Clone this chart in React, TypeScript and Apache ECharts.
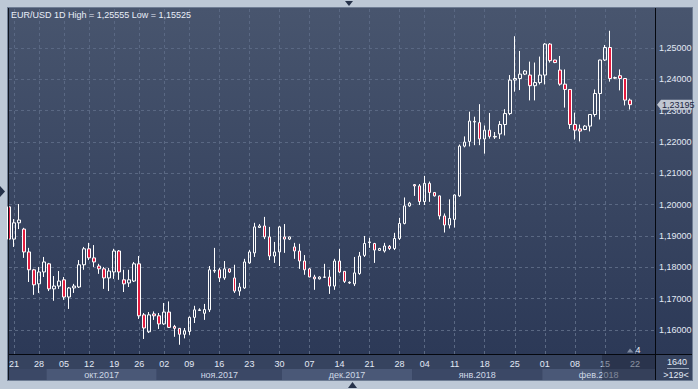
import React, { useEffect, useRef } from "react";
import * as echarts from "echarts";

const dates: string[] = [
  "2017-09-20", "2017-09-21", "2017-09-22", "2017-09-25", "2017-09-26", "2017-09-27", "2017-09-28", "2017-09-29",
  "2017-10-02", "2017-10-03", "2017-10-04", "2017-10-05", "2017-10-06", "2017-10-09", "2017-10-10", "2017-10-11",
  "2017-10-12", "2017-10-13", "2017-10-16", "2017-10-17", "2017-10-18", "2017-10-19", "2017-10-20", "2017-10-23",
  "2017-10-24", "2017-10-25", "2017-10-26", "2017-10-27", "2017-10-30", "2017-10-31", "2017-11-01", "2017-11-02",
  "2017-11-03", "2017-11-06", "2017-11-07", "2017-11-08", "2017-11-09", "2017-11-10", "2017-11-12", "2017-11-13",
  "2017-11-14", "2017-11-15", "2017-11-16", "2017-11-17", "2017-11-19", "2017-11-20", "2017-11-21", "2017-11-22",
  "2017-11-23", "2017-11-24", "2017-11-26", "2017-11-27", "2017-11-28", "2017-11-29", "2017-11-30", "2017-12-01",
  "2017-12-03", "2017-12-04", "2017-12-05", "2017-12-06", "2017-12-07", "2017-12-08", "2017-12-10", "2017-12-11",
  "2017-12-12", "2017-12-13", "2017-12-14", "2017-12-15", "2017-12-17", "2017-12-18", "2017-12-19", "2017-12-20",
  "2017-12-21", "2017-12-22", "2017-12-24", "2017-12-25", "2017-12-26", "2017-12-27", "2017-12-28", "2017-12-29",
  "2017-12-31", "2018-01-02", "2018-01-03", "2018-01-04", "2018-01-05", "2018-01-07", "2018-01-08", "2018-01-09",
  "2018-01-10", "2018-01-11", "2018-01-12", "2018-01-14", "2018-01-15", "2018-01-16", "2018-01-17", "2018-01-18",
  "2018-01-19", "2018-01-21", "2018-01-22", "2018-01-23", "2018-01-24", "2018-01-25", "2018-01-26", "2018-01-28",
  "2018-01-29", "2018-01-30", "2018-01-31", "2018-02-01", "2018-02-02", "2018-02-04", "2018-02-05", "2018-02-06",
  "2018-02-07", "2018-02-08", "2018-02-09", "2018-02-11", "2018-02-12", "2018-02-13", "2018-02-14", "2018-02-15",
  "2018-02-16", "2018-02-18", "2018-02-19", "2018-02-20", "2018-02-21", "2018-02-22", "2018-02-23", "2018-02-25",
  "2018-02-26", "2018-02-27",
];

const opens: number[] = [
  1.1993, 1.1890, 1.1942, 1.1922, 1.1849, 1.1792, 1.1747, 1.1785, 1.1811, 1.1731,
  1.1740, 1.1760, 1.1705, 1.1734, 1.1737, 1.1808, 1.1859, 1.1830, 1.1804, 1.1795,
  1.1766, 1.1785, 1.1852, 1.1760, 1.1750, 1.1756, 1.1811, 1.1648, 1.1594, 1.1651,
  1.1645, 1.1619, 1.1657, 1.1611, 1.1605, 1.1586, 1.1595, 1.1640, 1.1662, 1.1653,
  1.1664, 1.1788, 1.1792, 1.1766, 1.1795, 1.1766, 1.1724, 1.1734, 1.1814, 1.1846,
  1.1927, 1.1932, 1.1897, 1.1836, 1.1849, 1.1897, 1.1890, 1.1865, 1.1852, 1.1820,
  1.1795, 1.1769, 1.1763, 1.1768, 1.1769, 1.1740, 1.1820, 1.1787, 1.1750, 1.1747,
  1.1780, 1.1838, 1.1879, 1.1876, 1.1854, 1.1852, 1.1867, 1.1860, 1.1892, 1.1940,
  1.1996, 1.2064, 1.2060, 1.2010, 1.2068, 1.2039, 1.2028, 1.1964, 1.1935, 1.1953,
  1.2028, 1.2187, 1.2202, 1.2264, 1.2262, 1.2210, 1.2238, 1.2216, 1.2226, 1.2256,
  1.2291, 1.2398, 1.2403, 1.2417, 1.2414, 1.2380, 1.2390, 1.2414, 1.2513, 1.2462,
  1.2430, 1.2385, 1.2368, 1.2256, 1.2242, 1.2240, 1.2251, 1.2288, 1.2355, 1.2462,
  1.2502, 1.2404, 1.2412, 1.2403, 1.2334,
];

const closes: number[] = [
  1.1890, 1.1942, 1.1951, 1.1849, 1.1792, 1.1744, 1.1785, 1.1817, 1.1731, 1.1740,
  1.1756, 1.1705, 1.1734, 1.1740, 1.1808, 1.1859, 1.1830, 1.1817, 1.1795, 1.1766,
  1.1788, 1.1852, 1.1785, 1.1747, 1.1760, 1.1811, 1.1645, 1.1606, 1.1648, 1.1645,
  1.1619, 1.1657, 1.1608, 1.1605, 1.1586, 1.1597, 1.1640, 1.1664, 1.1664, 1.1665,
  1.1792, 1.1790, 1.1766, 1.1795, 1.1785, 1.1724, 1.1737, 1.1817, 1.1849, 1.1929,
  1.1932, 1.1897, 1.1836, 1.1849, 1.1929, 1.1890, 1.1897, 1.1852, 1.1820, 1.1792,
  1.1769, 1.1763, 1.1769, 1.1769, 1.1740, 1.1820, 1.1785, 1.1755, 1.1752, 1.1782,
  1.1836, 1.1876, 1.1881, 1.1855, 1.1860, 1.1868, 1.1860, 1.1892, 1.1940, 1.1996,
  1.2005, 1.2060, 1.2010, 1.2068, 1.2039, 1.2028, 1.1964, 1.1935, 1.1956, 1.2031,
  1.2187, 1.2200, 1.2267, 1.2266, 1.2210, 1.2238, 1.2218, 1.2218, 1.2256, 1.2291,
  1.2398, 1.2403, 1.2417, 1.2427, 1.2380, 1.2390, 1.2414, 1.2513, 1.2460, 1.2454,
  1.2385, 1.2368, 1.2256, 1.2238, 1.2235, 1.2251, 1.2288, 1.2355, 1.2462, 1.2502,
  1.2403, 1.2406, 1.2403, 1.2334, 1.23195,
];

const lows: number[] = [
  1.1884, 1.1865, 1.1922, 1.1830, 1.1753, 1.1712, 1.1718, 1.1769, 1.1724, 1.1693,
  1.1731, 1.1696, 1.1667, 1.1718, 1.1734, 1.1792, 1.1823, 1.1801, 1.1779, 1.1731,
  1.1724, 1.1763, 1.1760, 1.1721, 1.1737, 1.1753, 1.1635, 1.1571, 1.1590, 1.1632,
  1.1603, 1.1616, 1.1606, 1.1578, 1.15525, 1.1573, 1.1584, 1.1622, 1.1661, 1.1632,
  1.1657, 1.1782, 1.1753, 1.1760, 1.1782, 1.1718, 1.1709, 1.1731, 1.1811, 1.1833,
  1.1926, 1.1890, 1.1823, 1.1814, 1.1804, 1.1846, 1.1887, 1.1827, 1.1795, 1.1776,
  1.1768, 1.1728, 1.1761, 1.1766, 1.1715, 1.1728, 1.1782, 1.1750, 1.1747, 1.1740,
  1.1776, 1.1833, 1.1862, 1.1814, 1.1852, 1.1847, 1.1855, 1.1855, 1.1887, 1.1937,
  1.1993, 1.2028, 1.1999, 1.1999, 1.2009, 1.2026, 1.1953, 1.1911, 1.1924, 1.1927,
  1.2025, 1.2183, 1.2186, 1.2190, 1.2190, 1.2163, 1.2211, 1.2210, 1.2210, 1.2221,
  1.2286, 1.2361, 1.2366, 1.2414, 1.2333, 1.2333, 1.2384, 1.2384, 1.2454, 1.2452,
  1.2380, 1.2310, 1.2242, 1.2208, 1.2202, 1.2238, 1.2234, 1.2281, 1.2272, 1.2459,
  1.2393, 1.2401, 1.2365, 1.2317, 1.2304,
];

const highs: number[] = [
  1.1999, 1.1954, 1.2002, 1.1926, 1.1862, 1.1795, 1.1801, 1.1833, 1.1814, 1.1772,
  1.1788, 1.1769, 1.1737, 1.1747, 1.1823, 1.1865, 1.1878, 1.1871, 1.1811, 1.1801,
  1.1798, 1.1859, 1.1855, 1.1792, 1.1792, 1.1817, 1.1836, 1.1654, 1.1657, 1.1659,
  1.1654, 1.1686, 1.1691, 1.1616, 1.1606, 1.1606, 1.1643, 1.1677, 1.1669, 1.1683,
  1.1804, 1.1862, 1.1798, 1.1820, 1.1796, 1.1808, 1.1750, 1.1827, 1.1855, 1.1942,
  1.1938, 1.1961, 1.1929, 1.1881, 1.1932, 1.1938, 1.1898, 1.1878, 1.1875, 1.1839,
  1.1798, 1.1776, 1.1771, 1.1811, 1.1792, 1.1827, 1.1859, 1.1788, 1.1755, 1.1833,
  1.1849, 1.1900, 1.1894, 1.1878, 1.1862, 1.1878, 1.1871, 1.1910, 1.1958, 1.2023,
  1.2009, 1.2066, 1.2066, 1.2092, 1.2074, 1.2040, 1.2029, 1.1972, 1.2017, 1.2033,
  1.2192, 1.2218, 1.2297, 1.2281, 1.2321, 1.2253, 1.2293, 1.2232, 1.2267, 1.2305,
  1.2414, 1.2538, 1.2491, 1.2430, 1.2457, 1.2454, 1.2473, 1.2516, 1.2516, 1.2463,
  1.2475, 1.2432, 1.2369, 1.2294, 1.2256, 1.2254, 1.2289, 1.2368, 1.2463, 1.2510,
  1.25555, 1.2409, 1.2432, 1.2404, 1.2339,
];

const yTicks: number[] = [1.16, 1.17, 1.18, 1.19, 1.2, 1.21, 1.22, 1.23, 1.24, 1.25];
const lastPrice = 1.23195;
const titleText = "EUR/USD 1D High = 1,25555 Low = 1,15525";
const monthNames: Record<string, string> = {
  "09": "сен.", "10": "окт.", "11": "ноя.", "12": "дек.", "01": "янв.", "02": "фев.",
};
const cornerTop = "1640";
const cornerBottom = ">129<";
const shiftText = "4";

const FONT = '"Liberation Sans", Arial, sans-serif';
const W = 698;
const H = 389;
const GL = 9;
const GR = 655;
const GT = 9;
const GB = 354;

export default function App() {
  const ref = useRef<HTMLDivElement>(null);

  useEffect(() => {
    const el = ref.current;
    if (!el) return;
    const chart = echarts.init(el, null, { renderer: "svg" });
    const isThu = (i: number) =>
      i >= 0 && i < dates.length && new Date(dates[i] + "T00:00:00Z").getUTCDay() === 4;

    const candles = opens.map((o, i) => [o, closes[i], lows[i], highs[i]]);
    const gridLine = { color: "#5a6883", type: [3, 3] as number[], width: 1 };

    chart.setOption({
      animation: false,
      backgroundColor: "#bdc8d6",
      grid: { left: GL, right: W - GR, top: GT, bottom: H - GB, containLabel: false },
      xAxis: {
        type: "category",
        data: dates,
        boundaryGap: false,
        axisLine: { show: true, lineStyle: { color: "#05080f", width: 1 } },
        axisTick: { show: false },
        axisLabel: {
          interval: (i: number) => isThu(i),
          formatter: (v: string) => v.slice(8),
          color: "#e2e9f5",
          fontSize: 9,
          fontFamily: FONT,
          margin: 5,
        },
        splitLine: { show: true, interval: (i: number) => isThu(i), lineStyle: gridLine },
      },
      yAxis: {
        type: "value",
        position: "right",
        min: 1.1523,
        max: 1.2625,
        axisLine: { show: true, lineStyle: { color: "#05080f", width: 1 } },
        axisTick: { show: false, customValues: yTicks },
        axisLabel: {
          customValues: yTicks,
          formatter: (v: number) => v.toFixed(5).replace(".", ","),
          color: "#e2e9f5",
          fontSize: 9,
          fontFamily: FONT,
          margin: 4,
        },
        splitLine: { show: true, lineStyle: gridLine },
      },
      series: [
        {
          type: "candlestick",
          data: candles,
          barWidth: 3,
          z: 5,
          itemStyle: {
            color: "transparent",
            color0: "#e31b3f",
            borderColor: "#ffffff",
            borderColor0: "#ffffff",
            borderWidth: 1,
          },
        },
      ],
    });

    const xPix = (i: number) => chart.convertToPixel({ xAxisIndex: 0 }, i) as number;
    const yPix = (v: number) => chart.convertToPixel({ yAxisIndex: 0 }, v) as number;

    const grad = {
      type: "linear", x: 0, y: 0, x2: 0, y2: 1,
      colorStops: [
        { offset: 0, color: "#48556e" },
        { offset: 1, color: "#2c3957" },
      ],
    };

    const g: any[] = [];
    // panels
    g.push({ type: "rect", z: -20, shape: { x: 7, y: 7, width: 686, height: 374 }, style: { fill: "#6f7d94" } });
    g.push({ type: "rect", z: -19, shape: { x: 8, y: 8, width: GR - 8, height: GB - 8 }, style: { fill: grad } });
    g.push({ type: "rect", z: -19, shape: { x: GR, y: 8, width: 692 - GR, height: GB - 8 }, style: { fill: grad } });
    g.push({ type: "rect", z: -19, shape: { x: 8, y: GB, width: 684, height: 380 - GB }, style: { fill: "#36435f" } });

    // month bands
    const segs: { s: number; e: number; key: string }[] = [];
    dates.forEach((d, i) => {
      const key = d.slice(0, 7);
      if (segs.length && segs[segs.length - 1].key === key) segs[segs.length - 1].e = i;
      else segs.push({ s: i, e: i, key });
    });
    segs.forEach((sg, j) => {
      const x0 = sg.s === 0 ? 8 : (xPix(sg.s - 1) + xPix(sg.s)) / 2;
      const x1 = sg.e === dates.length - 1 ? GR : (xPix(sg.e) + xPix(sg.e + 1)) / 2;
      g.push({
        type: "rect", z: -18,
        shape: { x: x0, y: 369, width: x1 - x0, height: 11 },
        style: { fill: j % 2 === 1 ? "#4a5877" : "#3b4866" },
      });
      if (x1 - x0 > 60) {
        const [yy, mm] = sg.key.split("-");
        g.push({
          type: "text", z: 10, x: (x0 + x1) / 2, y: 374.5,
          style: {
            text: monthNames[mm] + yy, fill: "#cfd8e6", font: `9px ${FONT}`,
            align: "center", verticalAlign: "middle",
          },
        });
      }
    });

    // borders
    g.push({ type: "line", z: 20, shape: { x1: GR + 0.5, y1: 8, x2: GR + 0.5, y2: 380 }, style: { stroke: "#05080f", lineWidth: 1 } });
    g.push({ type: "line", z: 20, shape: { x1: 8, y1: GB + 0.5, x2: 692, y2: GB + 0.5 }, style: { stroke: "#05080f", lineWidth: 1 } });
    g.push({ type: "line", z: 20, shape: { x1: 8.5, y1: 8, x2: 8.5, y2: 380 }, style: { stroke: "#10151f", lineWidth: 1 } });

    // dim overlay at bottom right of time axis
    g.push({ type: "rect", z: 15, shape: { x: 602, y: GB + 1, width: GR - 602, height: 380 - GB - 1 }, style: { fill: "rgba(28,36,56,0.45)" } });

    // corner info
    g.push({ type: "text", z: 20, x: 677, y: 362, style: { text: cornerTop, fill: "#e2e9f5", font: `9px ${FONT}`, align: "center", verticalAlign: "middle" } });
    g.push({ type: "line", z: 20, shape: { x1: 667, y1: 368.5, x2: 689, y2: 368.5 }, style: { stroke: "#9aa6ba", lineWidth: 1 } });
    g.push({ type: "text", z: 20, x: 676, y: 374.5, style: { text: cornerBottom, fill: "#e2e9f5", font: `9px ${FONT}`, align: "center", verticalAlign: "middle" } });

    // shift marker
    g.push({ type: "polygon", z: 20, shape: { points: [[627, 352.5], [630, 348.5], [633.5, 352.5]] }, style: { fill: "#7f8ba1" } });
    g.push({ type: "text", z: 20, x: 638, y: 349.5, style: { text: shiftText, fill: "#e8eef8", font: `9px ${FONT}`, align: "center", verticalAlign: "middle" } });

    // frame arrows
    g.push({ type: "polygon", z: 20, shape: { points: [[345, 1], [353, 1], [349, 6]] }, style: { fill: "#26324a" } });
    g.push({ type: "polygon", z: 20, shape: { points: [[0, 186], [5, 191.5], [0, 197]] }, style: { fill: "#26324a" } });
    g.push({ type: "polygon", z: 20, shape: { points: [[348, 388], [352.5, 382], [357, 388]] }, style: { fill: "#26324a" } });

    // title
    g.push({ type: "text", z: 20, x: 11, y: 15, style: { text: titleText, fill: "#e8eef8", font: `9px ${FONT}`, align: "left", verticalAlign: "middle" } });

    // last price marker
    const py = yPix(lastPrice);
    g.push({
      type: "polygon", z: 25,
      shape: { points: [[657, py], [661, py - 5], [692, py - 5], [692, py + 5], [661, py + 5]] },
      style: { fill: "#c0c7d2" },
    });
    g.push({
      type: "text", z: 26, x: 662, y: py,
      style: { text: lastPrice.toFixed(5).replace(".", ","), fill: "#1b2541", font: `9px ${FONT}`, align: "left", verticalAlign: "middle" },
    });

    chart.setOption({ graphic: g });

    return () => chart.dispose();
  }, []);

  return (
    <div
      ref={ref}
      style={{ position: "absolute", left: 0, top: 0, width: W, height: H }}
    />
  );
}
